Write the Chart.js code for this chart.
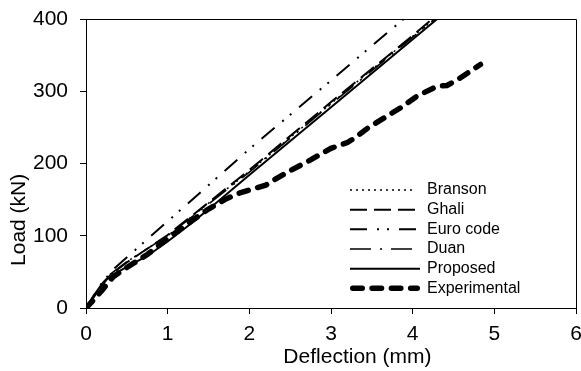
<!DOCTYPE html>
<html>
<head>
<meta charset="utf-8">
<script src="https://cdn.jsdelivr.net/npm/chart.js@4.4.1/dist/chart.umd.min.js"></script>
<style>
  html, body { margin: 0; padding: 0; background: #fff; }
  #wrap { width: 581px; height: 371px; }
</style>
</head>
<body>
<div id="wrap"><canvas id="chart" width="581" height="371"></canvas></div>
<script>
const xTicks = [0, 1, 2, 3, 4, 5, 6];
const yTicks = [0, 100, 200, 300, 400];

// load-deflection curves (mm, kN)
const bransonX = [0, 0.1, 0.2, 0.3, 0.5, 0.75, 1.0, 1.5, 2.0, 2.5, 3.0, 3.5, 4.0, 4.27];
const bransonY = [0, 16, 31, 45, 64, 82, 100, 145, 189, 236, 283, 330, 376, 400];

const ghaliX = [0, 0.1, 0.2, 0.3, 0.5, 1.0, 1.5, 2.0, 3.0, 4.0, 4.24];
const ghaliY = [0, 16, 32, 46, 63, 101, 146, 191, 285, 377, 400];

const euroX = [0, 0.2, 0.35, 0.6, 1.0, 2.0, 3.0, 3.89];
const euroY = [0, 36, 55, 80, 120, 220, 315, 400];

const duanX = [0, 0.1, 0.2, 0.3, 0.5, 1.0, 2.0, 3.0, 4.27];
const duanY = [0, 16, 32, 47, 64, 100, 188, 282, 400];

const proposedX = [0, 0.1, 0.2, 0.25, 0.3, 0.55, 0.75, 1.0, 1.3, 1.6, 2.0, 3.0, 4.3];
const proposedY = [0, 18, 34, 40, 44, 60, 72, 92, 118, 146, 184, 278, 400];

const experimentalX = [0, 0.1, 0.2, 0.33, 0.5, 0.75, 1.0, 1.25, 1.5, 1.7, 1.85, 2.05, 2.2, 2.3, 2.5, 2.75, 3.0, 3.2, 3.3, 3.45, 3.65, 3.85, 4.05, 4.3, 4.42, 4.55, 4.83];
const experimentalY = [0, 12, 25, 43, 56, 74, 96, 117, 137, 150, 158, 165, 170, 177, 190, 205, 221, 229, 236, 249, 263, 277, 293, 307, 308, 316, 337];

const FONT = "'Liberation Sans', Arial, sans-serif";

function pts(xs, ys) {
  return xs.map((x, i) => ({ x, y: ys[i] }));
}

function series(label, xs, ys, extra) {
  return Object.assign({
    label,
    data: pts(xs, ys),
    borderColor: "#000",
    backgroundColor: "#000",
    borderWidth: 1.8,
    pointRadius: 0,
    fill: false,
    tension: 0,
  }, extra);
}

// box round the plot area (top and right sides)
const frame = {
  id: "frame",
  afterDatasetsDraw(chart) {
    const { ctx, chartArea: a } = chart;
    ctx.save();
    ctx.strokeStyle = "#000";
    ctx.lineWidth = 1;
    ctx.beginPath();
    ctx.moveTo(Math.round(a.left) + 0.5, Math.round(a.top) + 0.5);
    ctx.lineTo(Math.round(a.right) + 0.5, Math.round(a.top) + 0.5);
    ctx.lineTo(Math.round(a.right) + 0.5, Math.round(a.bottom) + 0.5);
    ctx.stroke();
    ctx.restore();
  },
};

// axis titles, set off-centre like the original figure
const axisTitles = {
  id: "axisTitles",
  afterDraw(chart) {
    const { ctx, chartArea: a } = chart;
    ctx.save();
    ctx.fillStyle = "#000";
    ctx.font = "21px " + FONT;
    ctx.textAlign = "center";
    ctx.textBaseline = "alphabetic";
    ctx.fillText("Deflection (mm)", a.left + 0.554 * (a.right - a.left), 363);
    ctx.translate(24.5, a.top + 0.695 * (a.bottom - a.top));
    ctx.rotate(-Math.PI / 2);
    ctx.fillText("Load (kN)", 0, 0);
    ctx.restore();
  },
};

// legend inside the plot, drawn with each dataset's own line style
const innerLegend = {
  id: "innerLegend",
  afterDraw(chart) {
    const { ctx } = chart;
    const x0 = 350, x1 = 420, tx = 427, y0 = 190, step = 19.66;
    ctx.save();
    ctx.font = "16px " + FONT;
    ctx.fillStyle = "#000";
    ctx.textBaseline = "middle";
    chart.data.datasets.forEach((ds, i) => {
      const y = y0 + i * step;
      const w = ds.borderWidth;
      const cap = ds.borderCapStyle || "butt";
      const inset = cap === "round" ? w / 2 : 0;
      ctx.beginPath();
      ctx.strokeStyle = "#000";
      ctx.lineWidth = w;
      ctx.lineCap = cap;
      ctx.setLineDash(ds.borderDash || []);
      ctx.moveTo(x0 + inset, y);
      ctx.lineTo((ds.legendEnd || x1) - inset, y);
      ctx.stroke();
      ctx.fillText(ds.label, tx, y);
    });
    ctx.restore();
  },
};

Chart.defaults.font.family = FONT;
Chart.defaults.color = "#000";

new Chart(document.getElementById("chart"), {
  type: "line",
  data: {
    datasets: [
      series("Branson", bransonX, bransonY, { borderWidth: 1.5, borderDash: [2, 4], legendEnd: 412 }),
      series("Ghali", ghaliX, ghaliY, { borderWidth: 2, borderDash: [17, 7] }),
      series("Euro code", euroX, euroY, { borderWidth: 2, borderDash: [17, 10, 2, 8, 2, 10] }),
      series("Duan", duanX, duanY, { borderWidth: 1.6, borderDash: [21, 9, 2, 9], legendEnd: 412 }),
      series("Proposed", proposedX, proposedY, { borderWidth: 2 }),
      series("Experimental", experimentalX, experimentalY, {
        borderWidth: 5.5,
        borderDash: [9.5, 9.8],
        borderCapStyle: "round",
        order: -1,
      }),
    ],
  },
  options: {
    responsive: false,
    animation: false,
    events: [],
    layout: { padding: { top: 19, right: 5, left: 0, bottom: 0 } },
    plugins: {
      legend: { display: false },
      tooltip: { enabled: false },
    },
    scales: {
      x: {
        type: "linear",
        min: 0,
        max: 6,
        afterBuildTicks: (axis) => { axis.ticks = xTicks.map((v) => ({ value: v })); },
        afterFit: (scale) => {
          scale.height = 63;
          scale.paddingLeft = 0;
          scale.paddingRight = 0;
        },
        ticks: { font: { size: 21 }, padding: 8, color: "#000", maxRotation: 0 },
        grid: { drawOnChartArea: false, drawTicks: true, tickLength: 6, color: "#000" },
        border: { display: true, color: "#000", width: 1 },
      },
      y: {
        type: "linear",
        min: 0,
        max: 400,
        afterBuildTicks: (axis) => { axis.ticks = yTicks.map((v) => ({ value: v })); },
        afterFit: (scale) => {
          scale.width = 86;
          scale.paddingTop = 0;
          scale.paddingBottom = 0;
        },
        ticks: { font: { size: 21 }, padding: 12, color: "#000" },
        grid: { drawOnChartArea: false, drawTicks: true, tickLength: 6, color: "#000" },
        border: { display: true, color: "#000", width: 1 },
      },
    },
  },
  plugins: [frame, axisTitles, innerLegend],
});
</script>
</body>
</html>
